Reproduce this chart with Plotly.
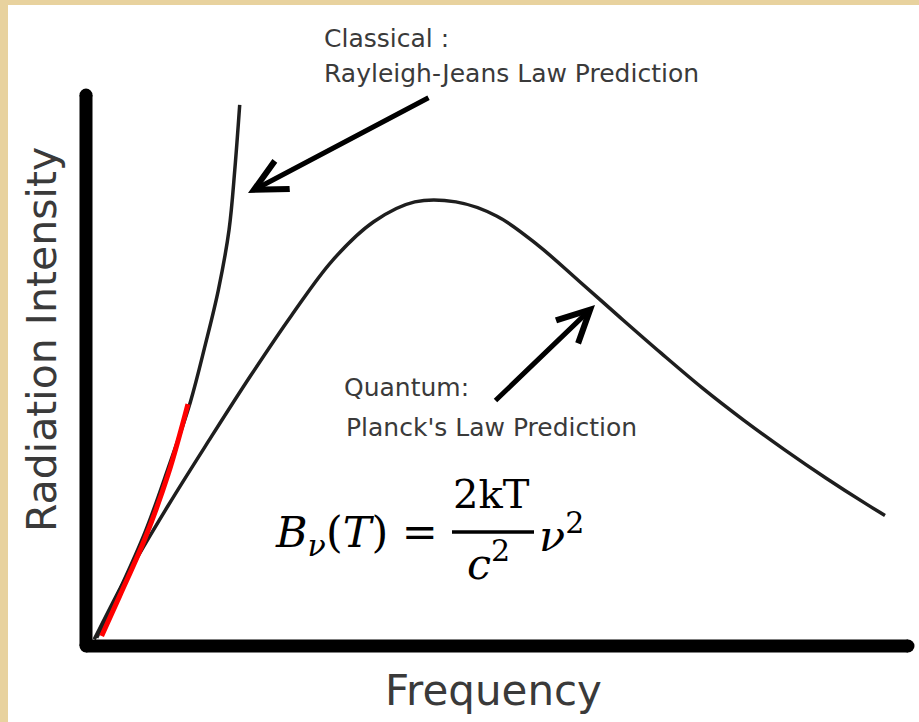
import plotly.graph_objects as go

# ---- data (arbitrary units) ----
planck_freq = [0.10, 0.50, 1.00, 1.50, 2.00, 2.50, 3.00, 3.50, 4.00, 4.50, 5.00,
               5.50, 6.00, 6.50, 7.00, 7.50, 8.00, 8.50, 9.00, 9.50, 9.72]
planck_int = [0.012, 0.128, 0.255, 0.374, 0.490, 0.600, 0.700, 0.770, 0.806, 0.806, 0.780,
              0.727, 0.662, 0.596, 0.531, 0.468, 0.410, 0.356, 0.305, 0.257, 0.237]

rj_freq = [0.13, 0.41, 0.72, 1.00, 1.27, 1.45, 1.61, 1.74, 1.81, 1.87]
rj_int = [0.015, 0.102, 0.207, 0.323, 0.443, 0.546, 0.646, 0.755, 0.864, 0.982]

red_freq = [0.19, 0.41, 0.72, 1.00, 1.24]
red_int = [0.018, 0.091, 0.196, 0.312, 0.439]

TXT = "#3a3a3a"
LINE = "#1e1e1e"

fig = go.Figure()
fig.add_trace(go.Scatter(x=planck_freq, y=planck_int, mode="lines",
                         line=dict(color=LINE, width=3.5, shape="spline", smoothing=1.0),
                         hoverinfo="skip"))
fig.add_trace(go.Scatter(x=rj_freq, y=rj_int, mode="lines",
                         line=dict(color=LINE, width=3.5, shape="spline", smoothing=1.0),
                         hoverinfo="skip"))
fig.add_trace(go.Scatter(x=red_freq, y=red_int, mode="lines",
                         line=dict(color="#ff0000", width=5, shape="spline"), hoverinfo="skip"))

L, T, W, H = 86, 95, 822, 551


def px(x):
    return (x - L) / W


def py(y):
    return (T + H - y) / H


shapes = []
tan = "#e8d29e"
shapes.append(dict(type="rect", xref="paper", yref="paper", x0=-0.2, x1=1.1,
                   y0=py(5), y1=1.3, fillcolor=tan, line=dict(width=0), layer="below"))
shapes.append(dict(type="rect", xref="paper", yref="paper", x0=-0.2, x1=px(8),
                   y0=-0.3, y1=1.3, fillcolor=tan, line=dict(width=0), layer="below"))
shapes.append(dict(type="line", xref="paper", yref="paper", x0=0, x1=0, y0=0, y1=1,
                   line=dict(color="black", width=13)))
shapes.append(dict(type="line", xref="paper", yref="paper", x0=0, x1=1, y0=0, y1=0,
                   line=dict(color="black", width=13)))
for (ax_, ay_) in [(0, 0), (0, 1), (1, 0)]:
    shapes.append(dict(type="circle", xref="paper", yref="paper", xsizemode="pixel",
                       ysizemode="pixel", xanchor=ax_, yanchor=ay_, x0=-6.5, x1=6.5,
                       y0=-6.5, y1=6.5, fillcolor="black", line=dict(width=0)))
# fraction bar
shapes.append(dict(type="line", xref="paper", yref="paper", x0=px(452), x1=px(534),
                   y0=py(532), y1=py(532), line=dict(color="black", width=3.5)))

ann = []
small = dict(family="DejaVu Sans", size=25, color=TXT)


def text(x, y, s, font, xanchor="left", **kw):
    ann.append(dict(x=px(x), y=py(y), xref="paper", yref="paper", text=s, showarrow=False,
                    xanchor=xanchor, yanchor="middle", font=font, **kw))


text(322, 38, "Classical :", small)
text(322, 73, "Rayleigh-Jeans Law Prediction", small)
text(342, 387, "Quantum:", small)
text(344, 428, "Planck's Law Prediction", small)
text(493, 690, "Frequency", dict(family="DejaVu Sans", size=42, color=TXT), xanchor="center")
text(42, 340, "Radiation Intensity", dict(family="DejaVu Sans", size=41, color=TXT),
     xanchor="center", textangle=-90)

for (tx, ty, sx, sy) in [(248, 193, 430, 97), (595, 305, 494, 402)]:
    ann.append(dict(x=px(tx), y=py(ty), ax=sx - tx, ay=sy - ty, axref="pixel", ayref="pixel",
                    xref="paper", yref="paper", text="", showarrow=True, arrowhead=5,
                    arrowsize=1.25, arrowwidth=5, arrowcolor="black", standoff=0))

ser = dict(family="DejaVu Serif", size=43, color="black")
text(440, 535, "<i>B</i><sub><i>ν</i></sub>(<i>T</i>)&nbsp;=", ser, xanchor="right")
text(491, 494, "2kT", dict(family="DejaVu Serif", size=40, color="black"), xanchor="center")
text(488, 561, "<i>c</i><sup>2</sup>", ser, xanchor="center")
text(537, 533, "<i>ν</i><sup>2</sup>", ser)

fig.update_layout(
    width=919, height=722,
    margin=dict(l=L, r=919 - L - W, t=T, b=722 - T - H),
    paper_bgcolor="white", plot_bgcolor="white",
    showlegend=False,
    xaxis=dict(range=[0, 10], visible=False, fixedrange=True),
    yaxis=dict(range=[0, 1], visible=False, fixedrange=True),
    shapes=shapes, annotations=ann,
)

fig.write_html("out.html", config={"displayModeBar": False},
               post_script="document.body.style.margin='0';")
